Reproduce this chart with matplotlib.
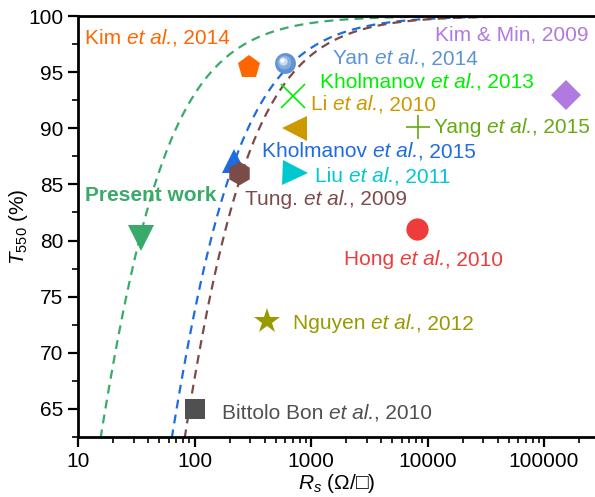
import matplotlib.pyplot as plt
import matplotlib.transforms as mtransforms
import numpy as np

plt.rcParams['font.family'] = ['Liberation Sans', 'DejaVu Sans']
plt.rcParams['mathtext.fontset'] = 'custom'
plt.rcParams['mathtext.it'] = 'Liberation Sans:italic'
plt.rcParams['mathtext.rm'] = 'Liberation Sans'

# literature data: sheet resistance (ohm/sq) and transmittance at 550 nm (%)
rs = [295, 600, 700, 720, 220, 240, 730, 35, 8100, 155000, 8300, 420, 101]
t550 = [95.5, 95.8, 92.9, 90.0, 87.1, 86.0, 86.0, 80.2, 81.0, 93.0, 90.1, 72.8, 65.0]
markers = ['p', 'o', 'x', '<', '^', 'h', '>', 'v', 'o', 'D', '+', '*', 's']
msizes = [17, 15, 17, 18, 17, 17, 18, 19, 16, 15, 17, 19, 14]
colors = ['#FF6600', '#5E93D3', '#00EE00', '#CC9900', '#1F6BE0', '#7B4B48', '#00C8D0',
          '#3AAA6A', '#EE3B3B', '#B07AE0', '#66AA11', '#999900', '#505050']

# fitted curves  T = (1 + a * Rs^-b)^-2
fit_a = [4.98, 21.4, 31.0]
fit_b = [1.066, 1.056, 1.079]
fit_color = ['#3AAA6A', '#1F6BE0', '#7B4B48']

# labels: author part, year part (italic "et al." goes in between)
lab_author = ['Kim', 'Yan', 'Kholmanov', 'Li', 'Kholmanov', 'Tung.', 'Liu', None,
              'Hong', None, 'Yang', 'Nguyen', 'Bittolo Bon']
lab_year = ['2014', '2014', '2013', '2010', '2015', '2009', '2011', None,
            '2010', None, '2015', '2012', '2010']
lab_plain = [None] * 7 + ['Present work', None, 'Kim & Min, 2009', None, None, None]
lab_x = [11.5, 1545, 1194, 1000, 380, 271, 1080, 11.5, 1919, 11600, 11370, 700, 172]
lab_y = [98.0, 96.2, 94.1, 92.1, 87.9, 83.7, 85.7, 84.0, 78.3, 98.3, 90.1, 72.6, 64.6]

fig = plt.figure(figsize=(5.95, 4.97), dpi=100)
ax = fig.add_axes([0.1311, 0.1207, 0.8689, 0.8471])

x = np.logspace(0.5, 6, 800)
for a, b, c in zip(fit_a, fit_b, fit_color):
    ax.plot(x, 100 * (1 + a * x ** -b) ** -2, color=c, ls=(0, (4, 2.8)), lw=1.6, zorder=1)

for i in range(len(rs)):
    thin = markers[i] in ('x', '+')
    ax.plot(rs[i], t550[i], marker=markers[i], ms=msizes[i], color=colors[i],
            mew=1.2 if thin else 0, ls='none', zorder=3)

# shading on the sphere marker
for dx, ms, c in [(-1.0, 10, '#86AEDD'), (-1.8, 6, '#C8DCF2'), (-2.2, 3, 'white')]:
    tr = mtransforms.offset_copy(ax.transData, fig=fig, x=dx, y=-dx, units='points')
    ax.plot(rs[1], t550[1], marker='o', ms=ms, color=c, mew=0, transform=tr, zorder=4)

for i in range(len(lab_x)):
    if lab_plain[i] is not None:
        ax.text(lab_x[i], lab_y[i], lab_plain[i], color=colors[i], fontsize=15, va='center',
                fontweight='bold' if lab_plain[i] == 'Present work' else 'normal')
        continue
    t = ax.text(lab_x[i], lab_y[i], lab_author[i] + ' ', color=colors[i], fontsize=15,
                va='center')
    t = ax.annotate('et al.', xy=(1, 0), xycoords=t, va='bottom', ha='left',
                    color=colors[i], fontsize=15, style='italic')
    ax.annotate(', ' + lab_year[i], xy=(1, 0), xycoords=t, va='bottom', ha='left',
                color=colors[i], fontsize=15)

ax.set_xscale('log')
ax.set_xlim(10, 274000)
ax.set_ylim(62.5, 100)
ax.set_yticks([65, 70, 75, 80, 85, 90, 95, 100])
ax.set_yticks(np.arange(62.5, 100, 2.5), minor=True)
ax.set_xticks([10, 100, 1000, 10000, 100000])
ax.set_xticklabels(['10', '100', '1000', '10000', '100000'])
ax.tick_params(which='major', length=7, width=1.6, labelsize=15, direction='out')
ax.tick_params(which='minor', length=4, width=1.2, direction='out')
ax.spines['right'].set_visible(False)
for s in ['left', 'bottom', 'top']:
    ax.spines[s].set_linewidth(2)

ax.set_xlabel(r'$R_s$ ($\Omega$/□)', fontsize=15, labelpad=1)
ax.set_ylabel(r'$T_{\mathit{550}}$ (%)', fontsize=15)
ax.yaxis.set_label_coords(-0.093, 0.5)

fig.savefig('out.png', dpi=100)
